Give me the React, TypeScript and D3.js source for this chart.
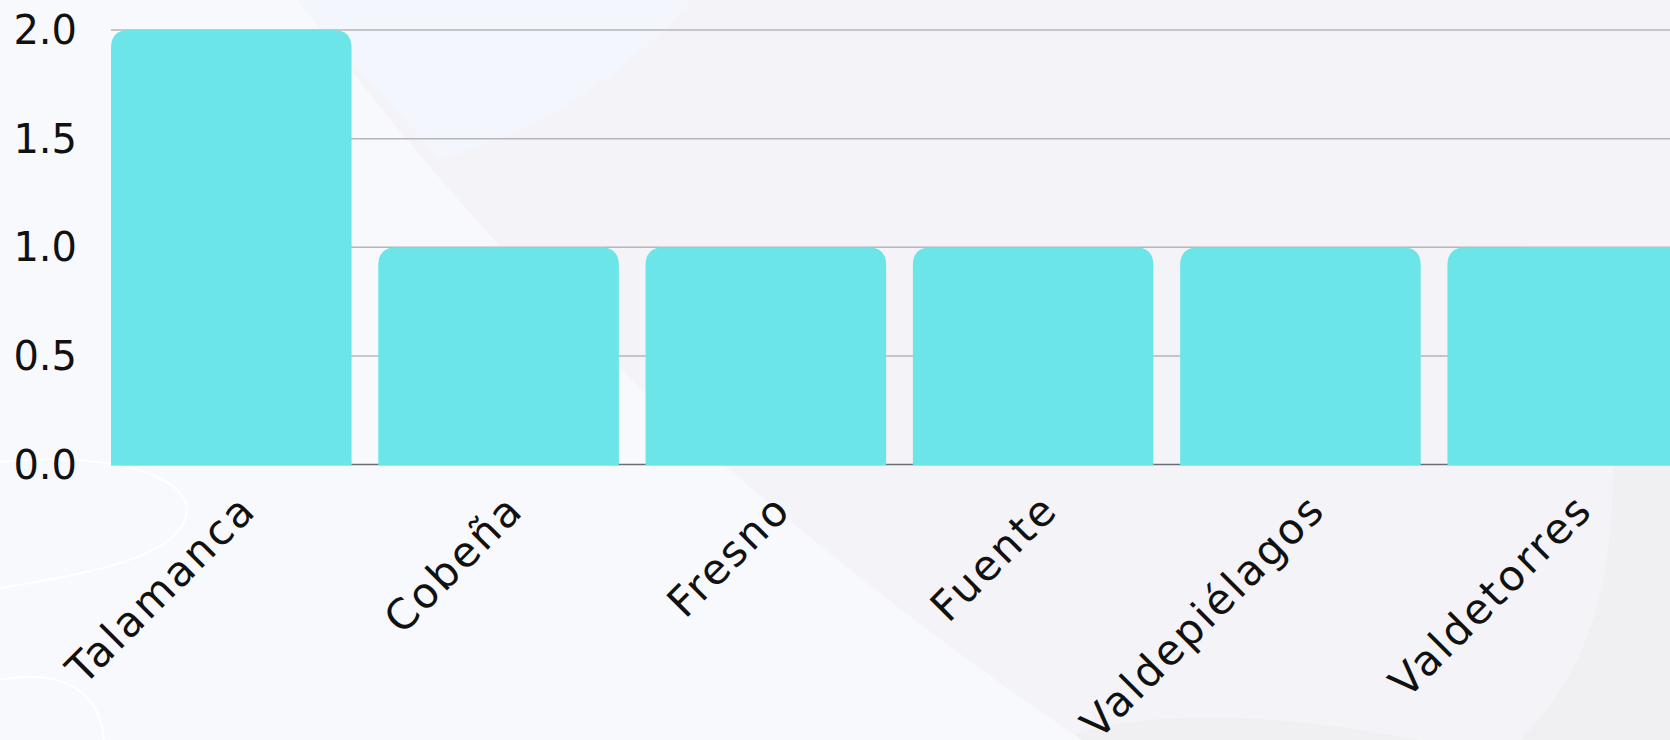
import React, { useEffect, useRef } from "react";
import * as d3 from "d3";

const municipios = ["Talamanca", "Cobeña", "Fresno", "Fuente", "Valdepiélagos", "Valdetorres"];
const cantidades = [2, 1, 1, 1, 1, 1];
const yTicks = [0, 0.5, 1, 1.5, 2];

const W = 1670;
const H = 740;

export default function App() {
    const ref = useRef<SVGSVGElement>(null);

    useEffect(() => {
        const svg = d3.select(ref.current);
        svg.selectAll("*").remove();

        const font = "'DejaVu Sans', sans-serif";

        // background blobs
        const bg = svg.append("g");
        bg.append("rect").attr("width", W).attr("height", H).attr("fill", "#f4f4f8");
        bg.append("path")
            .attr("d", "M1613,430 C1616,560 1600,660 1520,740 L1670,740 L1670,430 Z")
            .attr("fill", "#f0f0f3");
        bg.append("path")
            .attr("d", "M1060,740 C1120,712 1260,708 1420,740 Z")
            .attr("fill", "#f0f0f3");
        bg.append("path")
            .attr("d", "M0,0 L298,0 C420,165 640,440 1082,740 L0,740 Z")
            .attr("fill", "#f8f9fd");
        bg.append("path")
            .attr("d", "M298,0 L692,0 C620,80 540,130 440,160 C390,100 340,55 298,0 Z")
            .attr("fill", "#f3f6fd");
        bg.append("path")
            .attr("d", "M0,462 C120,450 200,480 185,520 C170,560 80,575 0,588")
            .attr("fill", "none").attr("stroke", "#ffffff").attr("stroke-width", 2);
        bg.append("path")
            .attr("d", "M0,680 C60,668 100,690 104,740")
            .attr("fill", "none").attr("stroke", "#ffffff").attr("stroke-width", 2);

        const x = d3.scaleBand().domain(municipios).range([111, 1688]).paddingInner(0.1).paddingOuter(0);
        const y = d3.scaleLinear().domain([0, 2]).range([464.5, 30]);

        // grid
        svg.append("g")
            .selectAll("line")
            .data(yTicks.filter((t) => t > 0))
            .join("line")
            .attr("x1", 111)
            .attr("x2", W)
            .attr("y1", (d) => y(d))
            .attr("y2", (d) => y(d))
            .attr("stroke", "#b6b6ba")
            .attr("stroke-width", 1.5);

        svg.append("line")
            .attr("x1", 111)
            .attr("x2", W)
            .attr("y1", y(0))
            .attr("y2", y(0))
            .attr("stroke", "#6c6c72")
            .attr("stroke-width", 1.5);

        // bars with rounded tops
        const r = 18;
        svg.append("g")
            .selectAll("path")
            .data(municipios)
            .join("path")
            .attr("d", (d, i) => {
                const x0 = x(d)!;
                const x1 = x0 + x.bandwidth();
                const yt = y(cantidades[i]);
                const yb = y(0) + 0.75;
                return `M${x0},${yb}V${yt + r}Q${x0},${yt} ${x0 + r},${yt}H${x1 - r}Q${x1},${yt} ${x1},${yt + r}V${yb}Z`;
            })
            .attr("fill", "#6ce5e8");

        // y labels
        svg.append("g")
            .selectAll("text")
            .data(yTicks)
            .join("text")
            .attr("x", 77)
            .attr("y", (d) => y(d))
            .attr("text-anchor", "end")
            .attr("dominant-baseline", "central")
            .attr("font-family", font)
            .attr("font-size", 40)
            .attr("fill", "#111")
            .text((d) => d.toFixed(1));

        // x labels
        svg.append("g")
            .selectAll("text")
            .data(municipios)
            .join("text")
            .attr("transform", (d) => `translate(${x(d)! + x.bandwidth() / 2 + 27},${512}) rotate(-45)`)
            .attr("text-anchor", "end")
            .attr("font-family", font)
            .attr("font-size", 42)
            .attr("letter-spacing", 2.5)
            .attr("fill", "#111")
            .text((d) => d);
    }, []);

    return (
        <svg
            ref={ref}
            width={W}
            height={H}
            style={{ position: "fixed", left: 0, top: 0, display: "block" }}
        ></svg>
    );
}
